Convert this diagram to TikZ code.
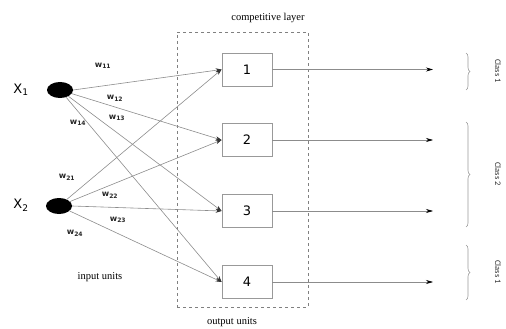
\documentclass[tikz,border=0pt]{standalone}
\usepackage{fontspec}
\setmainfont{Liberation Serif}
\newfontfamily\wfont{DejaVu Sans}
\newfontfamily\cfont{Carlito}
\usetikzlibrary{arrows.meta,decorations.pathreplacing,shapes.geometric}
\begin{document}
\begin{tikzpicture}[x=1pt,y=-1pt,
  unitbox/.style={draw=gray!80,thick,minimum width=50pt,minimum height=33pt,inner sep=0pt,font=\wfont\fontsize{13}{13}\selectfont},
  inunit/.style={ellipse,fill=black,minimum width=26pt,minimum height=16pt,inner sep=0pt},
  conn/.style={draw=gray!90,line width=0.6pt,-{Stealth[length=6pt,width=4pt,black!80]}},
  outconn/.style={draw=gray!90,line width=0.6pt,-{Stealth[length=7pt,width=4pt,black]}},
  wlab/.style={font=\wfont\bfseries\fontsize{8}{8}\selectfont,text=black!85,inner sep=0pt},
  xlab/.style={font=\wfont\fontsize{13}{13}\selectfont,inner sep=0pt},
  slab/.style={font=\fontsize{10.5}{10.5}\selectfont,inner sep=0pt},
  clab/.style={font=\cfont\fontsize{8.5}{8.5}\selectfont,rotate=-90,inner sep=0pt,text=black!80},
  cbrace/.style={draw=gray!80,line width=0.6pt,decorate,decoration={brace,amplitude=4pt}}
]
\useasboundingbox (0,0) rectangle (506,329);
% dashed layer
\node[draw=gray,dashed,line width=0.6pt,minimum width=131pt,minimum height=275pt,inner sep=0pt] (layer) at (242.5,169.5) {};
\node[slab] (ct) at (268,18) {competitive layer};
\node[slab] (ou) at (232,322) {output units};
\node[slab] (iu) at (100,277) {input units};
% inputs
\node[inunit] (x1) at (60,90) {};
\node[inunit] (x2) at (59,206) {};
\node[xlab] (lx1) at (21,90) {X\textsubscript{1}};
\node[xlab] (lx2) at (21,205) {X\textsubscript{2}};
% outputs
\node[unitbox] (o1) at (247,69.5) {1};
\node[unitbox] (o2) at (247,140) {2};
\node[unitbox] (o3) at (247,211) {3};
\node[unitbox] (o4) at (247,282) {4};
% connections
\draw[conn] (x1.east) -- (o1.west);
\draw[conn] (x1) -- (o2.west);
\draw[conn] (x1) -- (o3.west);
\draw[conn] (x1) -- (o4.west);
\draw[conn] (x2) -- (o1.west);
\draw[conn] (x2) -- (o2.west);
\draw[conn] (x2.east) -- (o3.west);
\draw[conn] (x2) -- (o4.west);
% weights
\node[wlab] (w11) at (103,66) {w\textsubscript{11}};
\node[wlab] (w12) at (115,98) {w\textsubscript{12}};
\node[wlab] (w13) at (117,118) {w\textsubscript{13}};
\node[wlab] (w14) at (78,123) {w\textsubscript{14}};
\node[wlab] (w21) at (67,177) {w\textsubscript{21}};
\node[wlab] (w22) at (110,195) {w\textsubscript{22}};
\node[wlab] (w23) at (118,220) {w\textsubscript{23}};
\node[wlab] (w24) at (75,233) {w\textsubscript{24}};
% output arrows
\coordinate (e1) at (433,69.5);
\coordinate (e2) at (433,140);
\coordinate (e3) at (433,211);
\coordinate (e4) at (433,282);
\draw[outconn] (o1.east) -- (e1);
\draw[outconn] (o2.east) -- (e2);
\draw[outconn] (o3.east) -- (e3);
\draw[outconn] (o4.east) -- (e4);
% braces
\coordinate (b1t) at (466,53); \coordinate (b1b) at (466,90);
\coordinate (b2t) at (466,122); \coordinate (b2b) at (466,227);
\coordinate (b3t) at (466,245); \coordinate (b3b) at (466,300);
\draw[cbrace] (b1t) -- (b1b);
\draw[cbrace] (b2t) -- (b2b);
\draw[cbrace] (b3t) -- (b3b);
\node[clab] (c1) at (498,71) {Class 1};
\node[clab] (c2) at (498,174) {Class 2};
\node[clab] (c3) at (498,272) {Class 1};
\end{tikzpicture}
\end{document}
